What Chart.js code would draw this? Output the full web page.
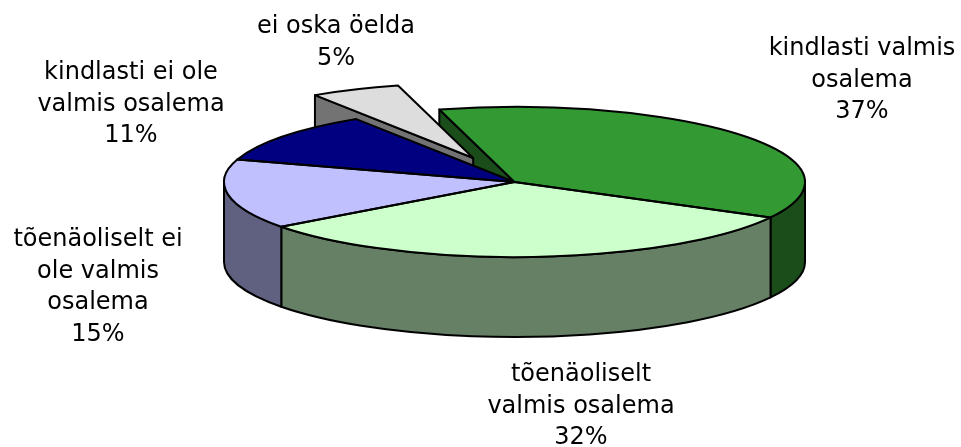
<!DOCTYPE html>
<html>
<head>
<meta charset="utf-8">
<style>
  html, body { margin: 0; background: #fff; }
  canvas { display: block; }
</style>
<script src="https://cdn.jsdelivr.net/npm/chart.js@4/dist/chart.umd.min.js"></script>
</head>
<body>
<canvas id="chart" width="961" height="447"></canvas>
<script>
// values, clockwise starting at the pulled out slice
const categories = ['ei oska öelda', 'kindlasti valmis osalema', 'tõenäoliselt valmis osalema', 'tõenäoliselt ei ole valmis osalema', 'kindlasti ei ole valmis osalema'];
const shares = [5, 37, 32, 15, 11];
const labelLines = [
  ['ei oska öelda'],
  ['kindlasti valmis', 'osalema'],
  ['tõenäoliselt', 'valmis osalema'],
  ['tõenäoliselt ei', 'ole valmis', 'osalema'],
  ['kindlasti ei ole', 'valmis osalema']
];
const topColors = ['#dddddd', '#339933', '#ccffcc', '#c0c0ff', '#000080'];
const wallColors = ['#737373', '#1a4d1a', '#668066', '#606080', '#000040'];
const explode = [184, 0, 0, 0, 0];

// where the pie sits on the page, the chart itself only knows a flat circle
const pieX = 514.5, pieY = 182, pieRx = 290.5, pieRy = 75, depth = 80;
const labelX = [336, 862, 581, 98, 131];
const labelY = [27, 49, 375, 240, 73];
const lineHeight = 31.5;
const outline = 2;

// real slice angles, before the correction in afterDatasetsUpdate
let sliceAngles = [];

// screen geometry of one arc, taken from the element the chart computed
const geom = (chart, i) => {
  const meta = chart.getDatasetMeta(0);
  const arc = meta.data[i];
  const r = meta.controller.outerRadius;
  const sx = pieRx / r, sy = pieRy / r;
  const [a0, a1] = sliceAngles[i];
  const mid = (a0 + a1) / 2;
  // ArcElement only moves a slice by a quarter of its offset option
  const off = (arc.options.offset || 0) / 4;
  return {
    cx: pieX + Math.cos(mid) * off * sx,
    cy: pieY + Math.sin(mid) * off * sy,
    a0, a1, sx, sy, chartX: arc.x, chartY: arc.y
  };
};

const paint = (ctx, fill) => {
  ctx.fillStyle = fill;
  ctx.fill();
  ctx.lineWidth = outline;
  ctx.lineJoin = 'round';
  ctx.strokeStyle = '#000';
  ctx.stroke();
};

// wall under the radial edge of a slice
const radialWall = (ctx, g, angle, fill) => {
  const ox = g.cx + Math.cos(angle) * pieRx, oy = g.cy + Math.sin(angle) * pieRy;
  ctx.beginPath();
  ctx.moveTo(g.cx, g.cy);
  ctx.lineTo(ox, oy);
  ctx.lineTo(ox, oy + depth);
  ctx.lineTo(g.cx, g.cy + depth);
  ctx.closePath();
  paint(ctx, fill);
};

// wall under the part of the rim that faces the viewer
const rimWall = (ctx, g, fill) => {
  const from = Math.max(g.a0, 0), to = Math.min(g.a1, Math.PI);
  if (from >= to) return;
  ctx.beginPath();
  ctx.ellipse(g.cx, g.cy, pieRx, pieRy, 0, from, to);
  ctx.ellipse(g.cx, g.cy + depth, pieRx, pieRy, 0, to, from, true);
  ctx.closePath();
  paint(ctx, fill);
};

const pie3d = {
  id: 'pie3d',
  afterDatasetsUpdate(chart) {
    // an offset slice gets bigger and narrower when ArcElement draws it, take that back out
    const arcs = chart.getDatasetMeta(0).data;
    sliceAngles = arcs.map(arc => [arc.startAngle, arc.endAngle]);
    arcs.forEach(arc => {
      const off = (arc.options.offset || 0) / 4;
      if (!off) return;
      const grow = off * (1 - Math.sin(Math.min(Math.PI, arc.circumference)));
      const widen = grow / Math.PI / arc.outerRadius / 2;
      arc.outerRadius -= grow;
      arc.startAngle -= widen;
      arc.endAngle += widen;
    });
  },
  beforeDatasetsDraw(chart) {
    const ctx = chart.ctx;
    const gs = shares.map((_, i) => geom(chart, i));
    radialWall(ctx, gs[1], gs[1].a0, wallColors[1]);
    radialWall(ctx, gs[0], gs[0].a0, wallColors[0]);
    gs.forEach((g, i) => rimWall(ctx, g, wallColors[i]));
    // squash the flat circle into the tilted ellipse
    const g = gs[1];
    ctx.save();
    ctx.translate(pieX, pieY);
    ctx.scale(g.sx, g.sy);
    ctx.translate(-g.chartX, -g.chartY);
  },
  afterDatasetsDraw(chart) {
    const ctx = chart.ctx;
    ctx.restore();
    // outlines on top, so the line width stays even
    shares.forEach((_, i) => {
      const g = geom(chart, i);
      ctx.beginPath();
      ctx.moveTo(g.cx, g.cy);
      ctx.ellipse(g.cx, g.cy, pieRx, pieRy, 0, g.a0, g.a1);
      ctx.closePath();
      ctx.lineWidth = outline;
      ctx.lineJoin = 'round';
      ctx.strokeStyle = '#000';
      ctx.stroke();
    });
    ctx.fillStyle = '#000';
    ctx.font = '24px "DejaVu Sans"';
    ctx.textAlign = 'center';
    ctx.textBaseline = 'middle';
    shares.forEach((v, i) => {
      const lines = labelLines[i].concat(v + '%');
      lines.forEach((t, n) => ctx.fillText(t, labelX[i], labelY[i] + n * lineHeight));
    });
  }
};

new Chart(document.getElementById('chart'), {
  type: 'pie',
  data: {
    labels: categories,
    datasets: [{
      data: shares,
      backgroundColor: topColors,
      borderWidth: 0,
      offset: explode
    }]
  },
  options: {
    responsive: false,
    animation: false,
    rotation: -33,
    layout: { padding: 0 },
    plugins: { legend: { display: false }, tooltip: { enabled: false } }
  },
  plugins: [pie3d]
});
</script>
</body>
</html>
